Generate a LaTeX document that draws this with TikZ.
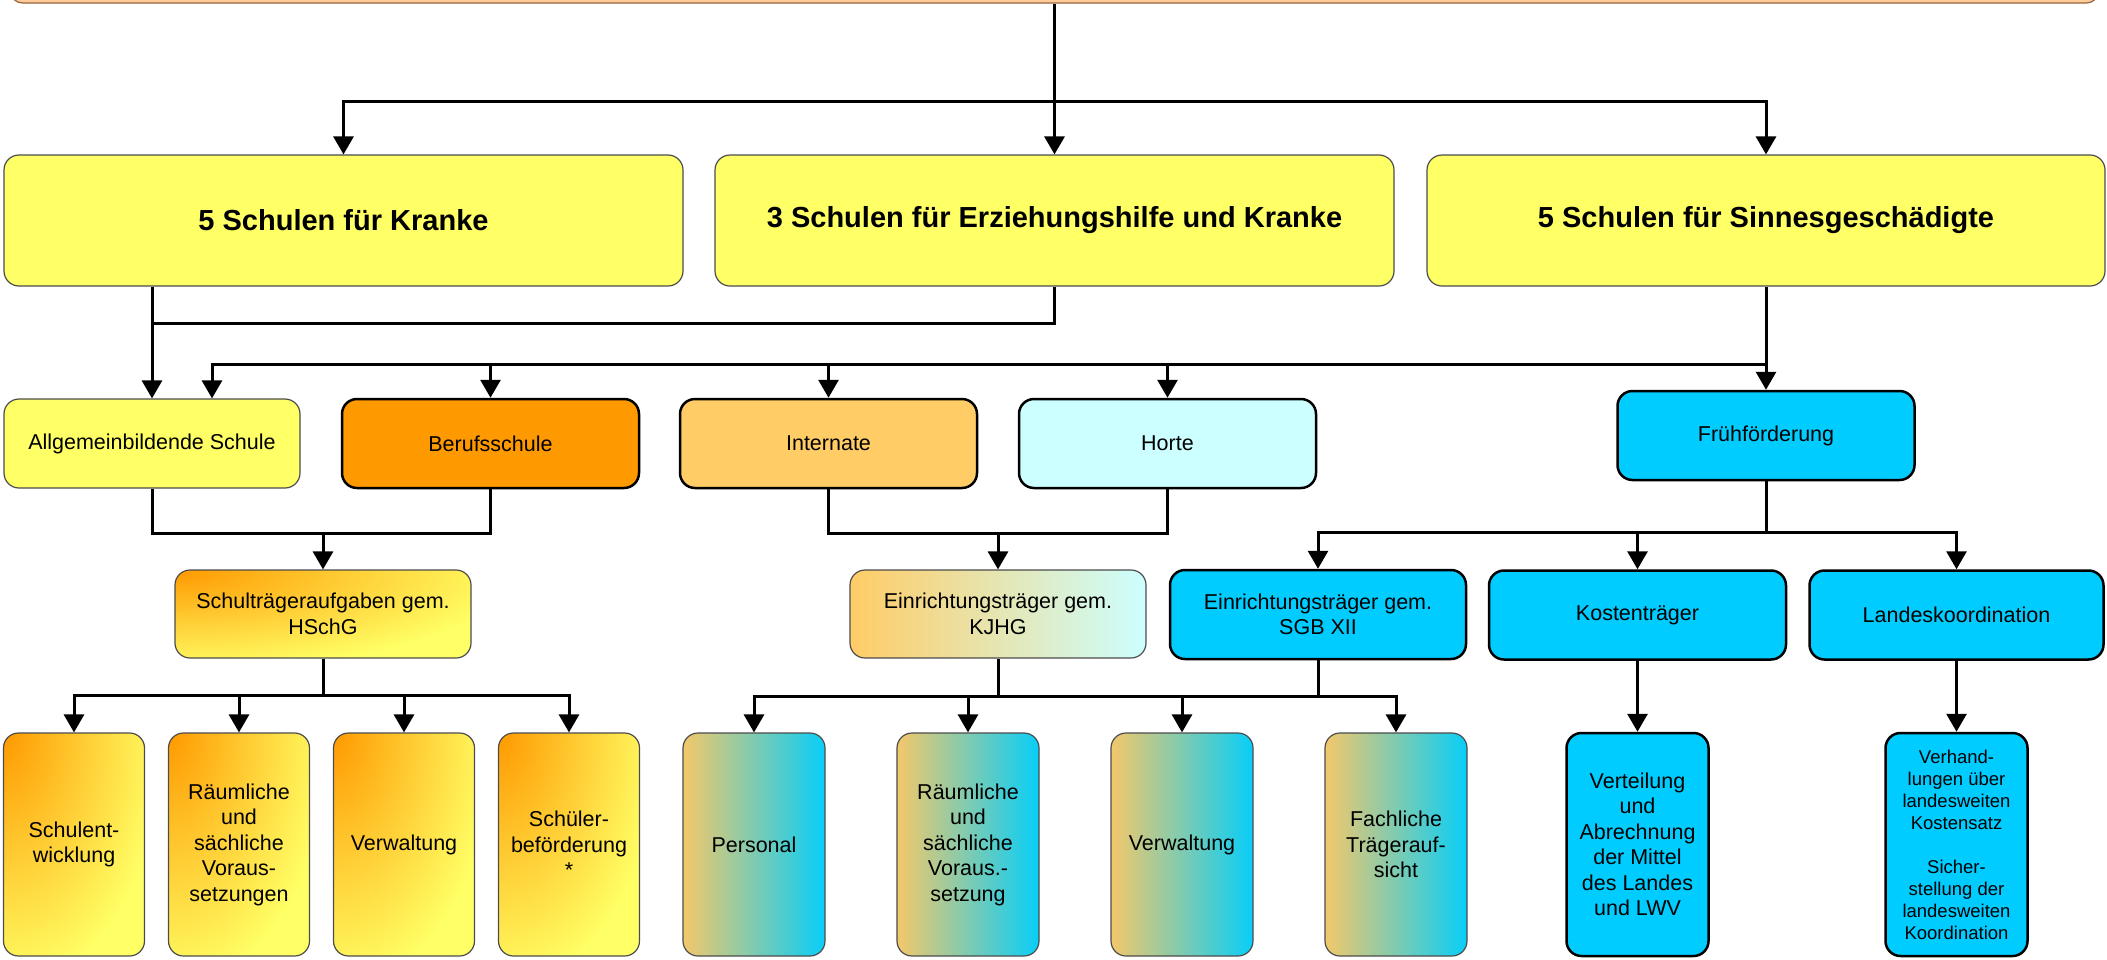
\documentclass[tikz,border=0pt]{standalone}
\usepackage{fontspec}
\setmainfont{Liberation Sans}
\usetikzlibrary{arrows.meta,calc}
\definecolor{peach}{HTML}{FFCC99}
\definecolor{peachb}{RGB}{150,100,60}
\definecolor{yel}{HTML}{FFFF66}
\definecolor{ora}{HTML}{FF9900}
\definecolor{lora}{HTML}{FFCC66}
\definecolor{lcyan}{HTML}{CCFFFF}
\definecolor{cya}{HTML}{00CCFF}
\definecolor{gl}{RGB}{243,200,106}
\definecolor{gr}{RGB}{8,206,248}
\definecolor{omid}{HTML}{FFC72E}
\pgfdeclareradialshading{orye}{\pgfpointorigin}{color(0bp)=(ora); color(11bp)=(omid); color(25bp)=(yel); color(50bp)=(yel)}
\tikzset{
  box/.style={rounded corners=15pt, align=center, inner sep=0pt,
    font=\fontsize{21.5}{25.5}\selectfont, text=black},
  thinb/.style={draw=black!70, line width=1.2pt},
  thickb/.style={draw=black, line width=2.5pt},
  radgrad/.style 2 args={fill=yel, path picture={\shade[shading=orye]
      (path picture bounding box.north west) ellipse [x radius=#1, y radius=#2];}},
  lone/.style={box, thinb, fill=yel, minimum width=679pt, minimum height=131pt,
    font=\bfseries\fontsize{29}{34}\selectfont},
  ltwo/.style={box, minimum width=297pt, minimum height=89pt},
  lfour/.style={box, minimum width=141pt, minimum height=223pt},
  conn/.style={draw=black, line width=3pt},
  arr/.style={-{Triangle[width=20pt,length=18pt]}},
  smalltext/.style={font=\fontsize{18.5}{22}\selectfont}
}
\begin{document}
\begin{tikzpicture}[x=1pt,y=-1pt]
\useasboundingbox (0,0) rectangle (2107,959);
% top bar
\node[draw=peachb, line width=1.2pt, fill=peach, rounded corners=12pt,
      minimum width=2088pt, minimum height=60pt, inner sep=0pt] (top) at (1054.5,-27) {};
% level 1
\node[lone] (k1) at (343.5,220.5) {5 Schulen für Kranke};
\node[lone] (k2) at (1054.5,220.5) {3 Schulen für Erziehungshilfe und Kranke};
\node[lone, minimum width=678pt] (k3) at (1766,220.5) {5 Schulen für Sinnesgeschädigte};
% level 2
\node[ltwo, thinb, fill=yel, minimum width=296pt] (a1) at (152,443.5) {Allgemeinbildende Schule};
\node[ltwo, thickb, fill=ora] (bs) at (490.5,443.5) {Berufsschule};
\node[ltwo, thickb, fill=lora] (in) at (828.5,443.5) {Internate};
\node[ltwo, thickb, fill=lcyan] (ho) at (1167.5,443.5) {Horte};
\node[ltwo, thickb, fill=cya] (fr) at (1766,435.5) {Frühförderung};
% level 3
\node[ltwo, thinb, radgrad={340pt}{101pt}, minimum width=296pt, minimum height=88pt] (st) at (323,614) {Schulträgeraufgaben gem.\\HSchG};
\node[ltwo, thinb, left color=lora, right color=lcyan, minimum width=296pt, minimum height=88pt] (kj) at (998,614) {Einrichtungsträger gem.\\KJHG};
\node[ltwo, thickb, fill=cya, minimum width=296pt] (sg) at (1318,614.5) {Einrichtungsträger gem.\\SGB XII};
\node[ltwo, thickb, fill=cya] (kt) at (1637.5,615) {Kostenträger};
\node[ltwo, thickb, fill=cya, minimum width=294pt] (lk) at (1956.5,615) {Landeskoordination};
% level 4 left
\node[lfour, thinb, radgrad={162pt}{256pt}] (b1) at (74,844.5) {Schulent-\\wicklung};
\node[lfour, thinb, radgrad={162pt}{256pt}] (b2) at (239,844.5) {Räumliche\\und\\sächliche\\Voraus-\\setzungen};
\node[lfour, thinb, radgrad={162pt}{256pt}] (b3) at (404,844.5) {Verwaltung};
\node[lfour, thinb, radgrad={162pt}{256pt}] (b4) at (569,844.5) {Schüler-\\beförderung\\*};
% level 4 middle
\node[lfour, thinb, left color=gl, right color=gr, minimum width=142pt] (c1) at (754,844.5) {Personal};
\node[lfour, thinb, left color=gl, right color=gr, minimum width=142pt] (c2) at (968,844.5) {Räumliche\\und\\sächliche\\Voraus.-\\setzung};
\node[lfour, thinb, left color=gl, right color=gr, minimum width=142pt] (c3) at (1182,844.5) {Verwaltung};
\node[lfour, thinb, left color=gl, right color=gr, minimum width=142pt] (c4) at (1396,844.5) {Fachliche\\Trägerauf-\\sicht};
% level 4 right
\node[lfour, thickb, fill=cya, minimum width=142pt] (d1) at (1637.5,844.5) {Verteilung\\und\\Abrechnung\\der Mittel\\des Landes\\und LWV};
\node[lfour, thickb, fill=cya, minimum width=142pt, smalltext] (d2) at (1956.5,844.5) {Verhand-\\lungen über\\landesweiten\\Kostensatz\\[22pt]Sicher-\\stellung der\\landesweiten\\Koordination};
% junctions
\coordinate (j1) at (1054.5,101);
\coordinate (j2) at (152,323);
\coordinate (j3) at (1766,364);
\coordinate (j4) at (323,533);
\coordinate (j5) at (998,533);
\coordinate (j6) at (1766,532);
\coordinate (j7) at (323,695);
\coordinate (j8) at (998,696);
% connectors top -> level 1
\draw[conn, arr] (top.south) -- (k2.north);
\draw[conn, arr] (j1) -| (k1.north);
\draw[conn, arr] (j1) -| (k3.north);
% level 1 -> level 2
\draw[conn] (k2.south) |- (j2);
\draw[conn, arr] (k1.south -| a1.north) -- (a1.north);
\draw[conn, arr] (k3.south) -- (fr.north);
\draw[conn, arr] (j3) -| ([xshift=60pt]a1.north);
\draw[conn, arr] (j3) -| (bs.north);
\draw[conn, arr] (j3) -| (in.north);
\draw[conn, arr] (j3) -| (ho.north);
% level 2 -> level 3
\draw[conn] (a1.south) |- (j4) -| (bs.south);
\draw[conn, arr] (j4) -- (st.north);
\draw[conn] (in.south) |- (j5) -| (ho.south);
\draw[conn, arr] (j5) -- (kj.north);
\draw[conn] (fr.south) -- (j6);
\draw[conn, arr] (j6) -| (sg.north);
\draw[conn, arr] (j6) -| (kt.north);
\draw[conn, arr] (j6) -| (lk.north);
% level 3 -> level 4
\draw[conn] (st.south) -- (j7);
\draw[conn, arr] (j7) -| (b1.north);
\draw[conn, arr] (j7) -| (b2.north);
\draw[conn, arr] (j7) -| (b3.north);
\draw[conn, arr] (j7) -| (b4.north);
\draw[conn] (kj.south) -- (j8);
\draw[conn] (sg.south) -- (sg.south |- j8);
\draw[conn, arr] (j8) -| (c1.north);
\draw[conn, arr] (j8) -| (c2.north);
\draw[conn, arr] (j8) -| (c3.north);
\draw[conn, arr] (j8) -| (c4.north);
\draw[conn, arr] (kt.south) -- (d1.north);
\draw[conn, arr] (lk.south) -- (d2.north);
\end{tikzpicture}
\end{document}
